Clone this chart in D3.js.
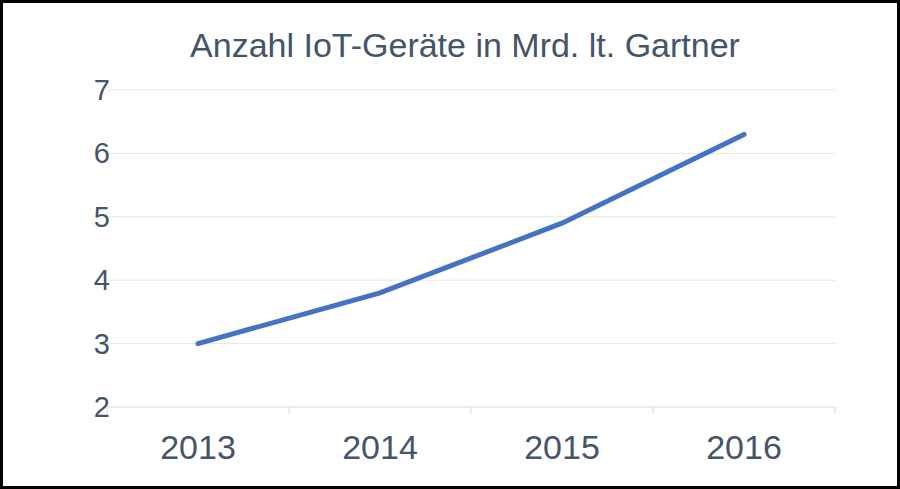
<!DOCTYPE html>
<html><head><meta charset="utf-8">
<script src="https://cdn.jsdelivr.net/npm/d3@7"></script>
<style>body{margin:0;background:#fff}</style>
</head><body>
<svg id="chart" width="900" height="489"></svg>
<script>
// data
var years = ['2013', '2014', '2015', '2016'];
var devices = [3.0, 3.8, 4.9, 6.3];
var yTicks = [2, 3, 4, 5, 6, 7];

(function() {
  var svg = d3.select('#chart'),
      textColor = '#44546a',
      left = 107, right = 835, plotTop = 90, plotBottom = 407;

  svg.append('rect')
    .attr('x', 1.5).attr('y', 1.5).attr('width', 897).attr('height', 486)
    .attr('fill', '#fff').attr('stroke', '#000').attr('stroke-width', 3);

  svg.append('text')
    .attr('x', 465).attr('y', 57)
    .attr('text-anchor', 'middle')
    .style('font', '34px "Liberation Sans", Arial, sans-serif')
    .style('fill', textColor)
    .text('Anzahl IoT-Geräte in Mrd. lt. Gartner');

  var x = d3.scalePoint().domain(years).range([left, right]).padding(0.5);
  var y = d3.scaleLinear().domain([2, 7]).range([plotBottom, plotTop]);

  // gridlines
  svg.selectAll('line.grid')
    .data(yTicks.slice(1))
    .enter().append('line')
      .attr('x1', left).attr('x2', right)
      .attr('y1', function(d) { return y(d); })
      .attr('y2', function(d) { return y(d); })
      .attr('stroke', '#e6e6e6').attr('stroke-width', 1);

  // y labels
  svg.selectAll('text.ylab')
    .data(yTicks)
    .enter().append('text')
      .attr('x', 110).attr('y', function(d) { return y(d) + 10; })
      .attr('text-anchor', 'end')
      .style('font', '29px "Liberation Sans", Arial, sans-serif')
      .style('fill', textColor)
      .text(function(d) { return d; });

  // x axis
  var step = x.step();
  svg.append('line')
    .attr('x1', left).attr('x2', right).attr('y1', plotBottom).attr('y2', plotBottom)
    .attr('stroke', '#d9d9d9');
  svg.selectAll('line.tick')
    .data(d3.range(years.length + 1))
    .enter().append('line')
      .attr('x1', function(i) { return left + i * step; })
      .attr('x2', function(i) { return left + i * step; })
      .attr('y1', plotBottom).attr('y2', plotBottom + 7)
      .attr('stroke', '#d9d9d9');
  svg.selectAll('text.xlab')
    .data(years)
    .enter().append('text')
      .attr('x', function(d) { return x(d); }).attr('y', 459)
      .attr('text-anchor', 'middle')
      .style('font', '34px "Liberation Sans", Arial, sans-serif')
      .style('fill', textColor)
      .text(function(d) { return d; });

  // line
  var line = d3.line()
    .x(function(d, i) { return x(years[i]); })
    .y(function(d) { return y(d); });
  svg.append('path')
    .datum(devices)
    .attr('d', line)
    .attr('fill', 'none')
    .attr('stroke', '#4472c4')
    .attr('stroke-width', 5)
    .attr('stroke-linecap', 'round');
})();
</script>
</body></html>
